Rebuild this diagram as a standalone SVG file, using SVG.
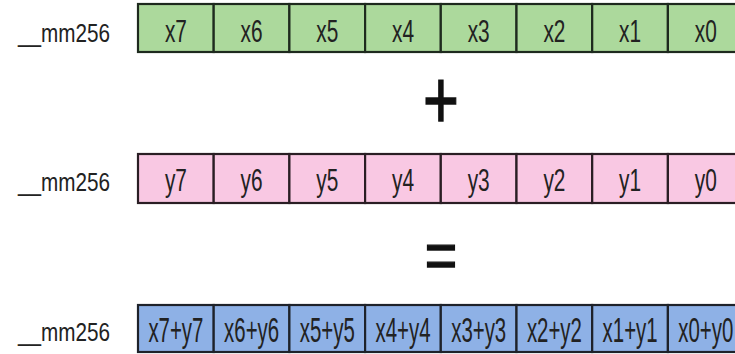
<svg xmlns="http://www.w3.org/2000/svg" width="735" height="354" viewBox="0 0 735 354">
<style>
.lbl{font-family:"Liberation Sans",Arial,sans-serif;font-size:26px;fill:#222}
.c{font-family:"Liberation Sans",Arial,sans-serif;font-size:32px;fill:#222;text-anchor:middle}
.c3{font-family:"Liberation Sans",Arial,sans-serif;font-size:35px;fill:#222;text-anchor:middle}
.g{fill:#acd99c;stroke:#1e2a1e;stroke-width:2.2}
.p{fill:#f9c8e3;stroke:#2a1e24;stroke-width:2.2}
.b{fill:#8eb1e6;stroke:#1e222a;stroke-width:2.2}
.op{font-family:"Liberation Sans",Arial,sans-serif;fill:#111;stroke:#111;stroke-width:1.4;text-anchor:middle}
</style>
<g id="row-x">
<text class="lbl" x="18" y="42" textLength="92" lengthAdjust="spacingAndGlyphs">__mm256</text>
<rect class="g" x="138" y="4" width="75.7" height="48"/>
<rect class="g" x="213.7" y="4" width="75.7" height="48"/>
<rect class="g" x="289.4" y="4" width="75.7" height="48"/>
<rect class="g" x="365.1" y="4" width="75.7" height="48"/>
<rect class="g" x="440.8" y="4" width="75.7" height="48"/>
<rect class="g" x="516.5" y="4" width="75.7" height="48"/>
<rect class="g" x="592.2" y="4" width="75.7" height="48"/>
<rect class="g" x="667.9" y="4" width="75.7" height="48"/>
<text class="c" x="175.9" y="42" textLength="22" lengthAdjust="spacingAndGlyphs">x7</text>
<text class="c" x="251.6" y="42" textLength="22" lengthAdjust="spacingAndGlyphs">x6</text>
<text class="c" x="327.3" y="42" textLength="22" lengthAdjust="spacingAndGlyphs">x5</text>
<text class="c" x="403" y="42" textLength="22" lengthAdjust="spacingAndGlyphs">x4</text>
<text class="c" x="478.7" y="42" textLength="22" lengthAdjust="spacingAndGlyphs">x3</text>
<text class="c" x="554.4" y="42" textLength="22" lengthAdjust="spacingAndGlyphs">x2</text>
<text class="c" x="630.1" y="42" textLength="22" lengthAdjust="spacingAndGlyphs">x1</text>
<text class="c" x="705.8" y="42" textLength="22" lengthAdjust="spacingAndGlyphs">x0</text>
</g>
<g id="plus"><text class="op" transform="translate(441,128.2) scale(0.74,1)" font-size="83">+</text></g>
<g id="row-y">
<text class="lbl" x="18" y="191" textLength="92" lengthAdjust="spacingAndGlyphs">__mm256</text>
<rect class="p" x="138" y="154" width="75.7" height="49"/>
<rect class="p" x="213.7" y="154" width="75.7" height="49"/>
<rect class="p" x="289.4" y="154" width="75.7" height="49"/>
<rect class="p" x="365.1" y="154" width="75.7" height="49"/>
<rect class="p" x="440.8" y="154" width="75.7" height="49"/>
<rect class="p" x="516.5" y="154" width="75.7" height="49"/>
<rect class="p" x="592.2" y="154" width="75.7" height="49"/>
<rect class="p" x="667.9" y="154" width="75.7" height="49"/>
<text class="c" x="175.9" y="191" textLength="22" lengthAdjust="spacingAndGlyphs">y7</text>
<text class="c" x="251.6" y="191" textLength="22" lengthAdjust="spacingAndGlyphs">y6</text>
<text class="c" x="327.3" y="191" textLength="22" lengthAdjust="spacingAndGlyphs">y5</text>
<text class="c" x="403" y="191" textLength="22" lengthAdjust="spacingAndGlyphs">y4</text>
<text class="c" x="478.7" y="191" textLength="22" lengthAdjust="spacingAndGlyphs">y3</text>
<text class="c" x="554.4" y="191" textLength="22" lengthAdjust="spacingAndGlyphs">y2</text>
<text class="c" x="630.1" y="191" textLength="22" lengthAdjust="spacingAndGlyphs">y1</text>
<text class="c" x="705.8" y="191" textLength="22" lengthAdjust="spacingAndGlyphs">y0</text>
</g>
<g id="equals"><text class="op" transform="translate(441,277.5) scale(0.83,1)" font-size="67">=</text></g>
<g id="row-sum">
<text class="lbl" x="18" y="341" textLength="92" lengthAdjust="spacingAndGlyphs">__mm256</text>
<rect class="b" x="138" y="305" width="75.7" height="47"/>
<rect class="b" x="213.7" y="305" width="75.7" height="47"/>
<rect class="b" x="289.4" y="305" width="75.7" height="47"/>
<rect class="b" x="365.1" y="305" width="75.7" height="47"/>
<rect class="b" x="440.8" y="305" width="75.7" height="47"/>
<rect class="b" x="516.5" y="305" width="75.7" height="47"/>
<rect class="b" x="592.2" y="305" width="75.7" height="47"/>
<rect class="b" x="667.9" y="305" width="75.7" height="47"/>
<text class="c3" x="175.9" y="342" textLength="55" lengthAdjust="spacingAndGlyphs">x7+y7</text>
<text class="c3" x="251.6" y="342" textLength="55" lengthAdjust="spacingAndGlyphs">x6+y6</text>
<text class="c3" x="327.3" y="342" textLength="55" lengthAdjust="spacingAndGlyphs">x5+y5</text>
<text class="c3" x="403" y="342" textLength="55" lengthAdjust="spacingAndGlyphs">x4+y4</text>
<text class="c3" x="478.7" y="342" textLength="55" lengthAdjust="spacingAndGlyphs">x3+y3</text>
<text class="c3" x="554.4" y="342" textLength="55" lengthAdjust="spacingAndGlyphs">x2+y2</text>
<text class="c3" x="630.1" y="342" textLength="55" lengthAdjust="spacingAndGlyphs">x1+y1</text>
<text class="c3" x="705.8" y="342" textLength="55" lengthAdjust="spacingAndGlyphs">x0+y0</text>
</g>
</svg>
